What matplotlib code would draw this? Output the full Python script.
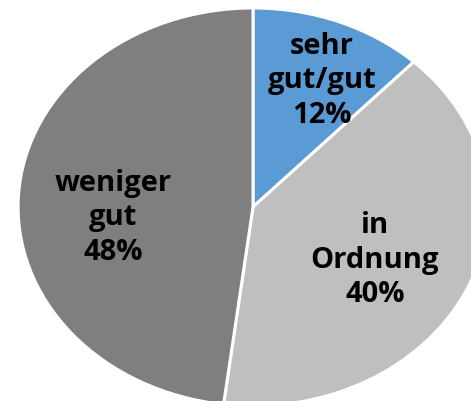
import matplotlib
matplotlib.use("Agg")
import matplotlib.pyplot as plt

# Bewertung (Anteile in %), im Uhrzeigersinn ab 12 Uhr
categories = ["sehr\ngut/gut", "in\nOrdnung", "weniger\ngut"]
shares = [12, 40, 48]
colors = ["#5B9BD5", "#BFBFBF", "#7F7F7F"]

# label centres in axes fraction
label_pos = [(0.684, 0.799), (0.796, 0.353), (0.240, 0.458)]

plt.rcParams["font.family"] = ["Open Sans", "DejaVu Sans"]

fig = plt.figure(figsize=(4.71, 4.02), dpi=100)
ax = fig.add_axes([0, 0, 1, 1])

wedges, _ = ax.pie(
    shares,
    colors=colors,
    startangle=90,
    counterclock=False,
    radius=1.0,
    wedgeprops=dict(edgecolor="white", linewidth=2.2),
)

# the original is an ellipse, stretched sideways and cropped at the bottom
ax.set_aspect("auto")
ax.set_xlim(-1.077, 0.928)
ax.set_ylim(-0.975, 1.045)
ax.axis("off")

for name, val, (x, y) in zip(categories, shares, label_pos):
    ax.text(x, y, f"{name}\n{val}%", transform=ax.transAxes,
            ha="center", va="center", fontsize=21, fontweight="bold",
            color="#000000", linespacing=1.25)

fig.savefig("out.png", dpi=100)
plt.close(fig)
